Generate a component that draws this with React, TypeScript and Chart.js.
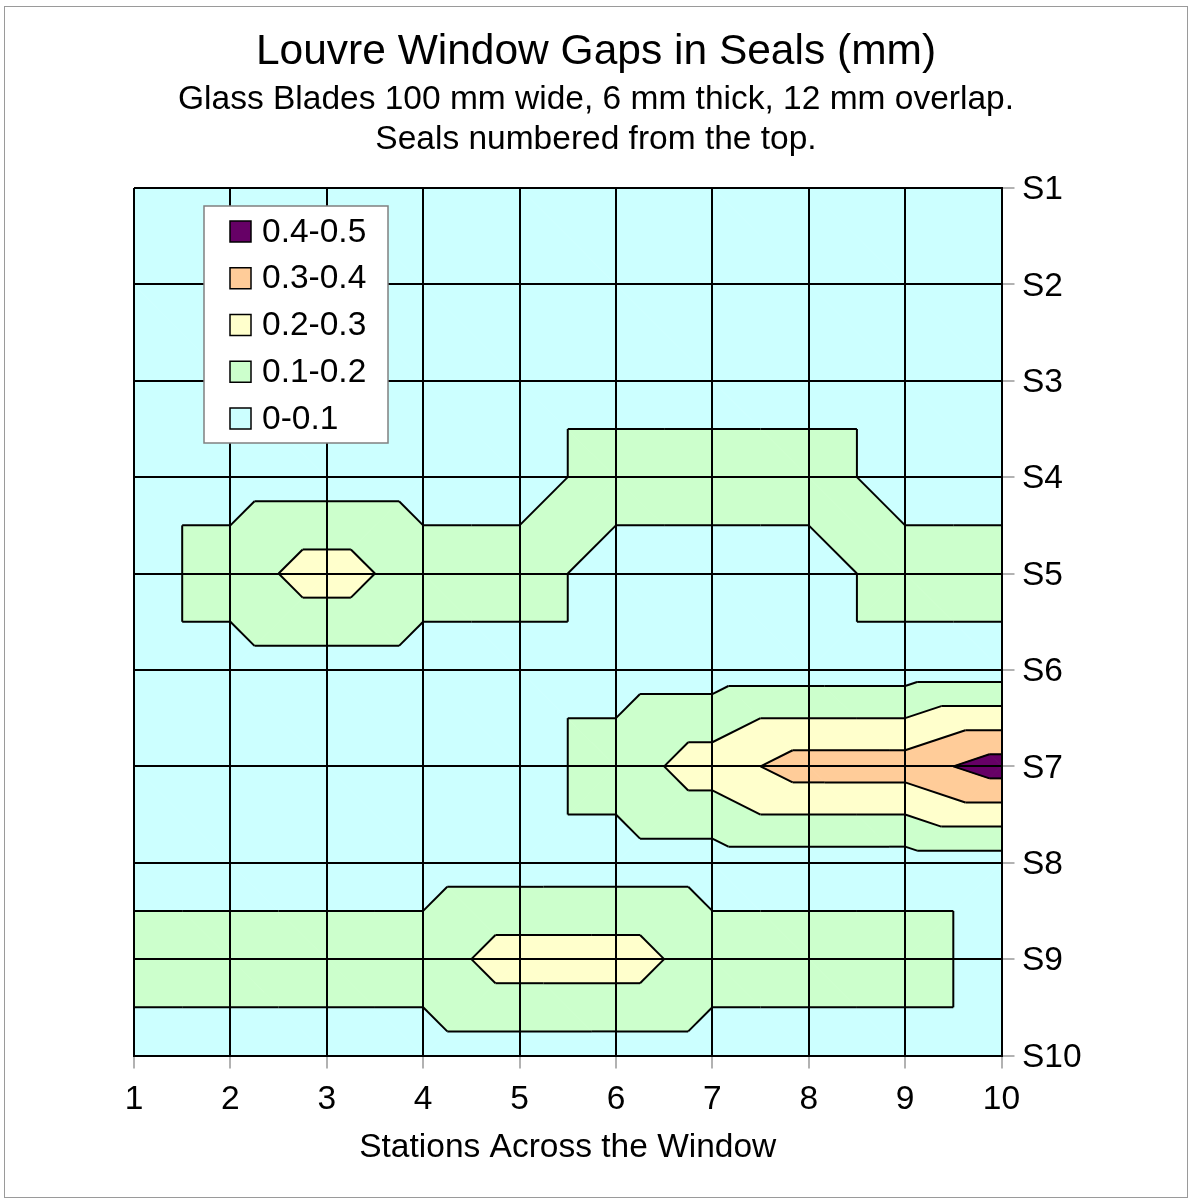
import React, { useEffect, useRef } from 'react';
import { Chart, registerables } from 'chart.js';

Chart.register(...registerables);

const FONT = "'Liberation Sans', Arial, sans-serif";

const titleText = 'Louvre Window Gaps in Seals (mm)';
const subtitleLines = ['Glass Blades 100 mm wide, 6 mm thick, 12 mm overlap.', 'Seals numbered from the top.'];
const xTitle = 'Stations Across the Window';

// stations across the window (x) and seals from the top (y)
const stations = [1, 2, 3, 4, 5, 6, 7, 8, 9, 10];
const seals = ['S1', 'S2', 'S3', 'S4', 'S5', 'S6', 'S7', 'S8', 'S9', 'S10'];

// gap in mm at each station, one row per seal
const gapS1 = [0.05, 0.05, 0.05, 0.05, 0.05, 0.05, 0.05, 0.05, 0.05, 0.05];
const gapS2 = [0.05, 0.05, 0.05, 0.05, 0.05, 0.05, 0.05, 0.05, 0.05, 0.05];
const gapS3 = [0.05, 0.05, 0.05, 0.05, 0.05, 0.05, 0.05, 0.05, 0.05, 0.05];
const gapS4 = [0.05, 0.05, 0.05, 0.05, 0.05, 0.15, 0.15, 0.15, 0.05, 0.05];
const gapS5 = [0.05, 0.15, 0.25, 0.15, 0.15, 0.05, 0.05, 0.05, 0.15, 0.15];
const gapS6 = [0.05, 0.05, 0.05, 0.05, 0.05, 0.05, 0.05, 0.05, 0.05, 0.05];
const gapS7 = [0.05, 0.05, 0.05, 0.05, 0.05, 0.15, 0.25, 0.35, 0.35, 0.45];
const gapS8 = [0.05, 0.05, 0.05, 0.05, 0.05, 0.05, 0.05, 0.05, 0.05, 0.05];
const gapS9 = [0.15, 0.15, 0.15, 0.15, 0.25, 0.25, 0.15, 0.15, 0.15, 0.05];
const gapS10 = [0.05, 0.05, 0.05, 0.05, 0.05, 0.05, 0.05, 0.05, 0.05, 0.05];
const gaps = [gapS1, gapS2, gapS3, gapS4, gapS5, gapS6, gapS7, gapS8, gapS9, gapS10];

// contour bands
const levels = [0, 0.1, 0.2, 0.3, 0.4, 0.5];
const bandLabels = ['0-0.1', '0.1-0.2', '0.2-0.3', '0.3-0.4', '0.4-0.5'];
const bandColors = ['#CCFFFF', '#CCFFCC', '#FFFFCC', '#FFCC99', '#660066'];

type P = { x: number; y: number; v: number };

// keep the part of a polygon above (or below) a level, values linear on it
const clip = (poly: P[], level: number, above: boolean): P[] => {
  const out: P[] = [];
  const inside = (p: P) => (above ? p.v >= level : p.v <= level);
  for (let i = 0; i < poly.length; i++) {
    const a = poly[i];
    const b = poly[(i + 1) % poly.length];
    const ia = inside(a);
    const ib = inside(b);
    if (ia) out.push(a);
    if (ia !== ib) {
      const t = (level - a.v) / (b.v - a.v);
      out.push({ x: a.x + t * (b.x - a.x), y: a.y + t * (b.y - a.y), v: level });
    }
  }
  return out;
};

// each cell split in two along the diagonal with the larger sum
const triangles = (): P[][] => {
  const tris: P[][] = [];
  for (let j = 0; j < seals.length - 1; j++) {
    for (let i = 0; i < stations.length - 1; i++) {
      const tl = { x: stations[i], y: j + 1, v: gaps[j][i] };
      const tr = { x: stations[i + 1], y: j + 1, v: gaps[j][i + 1] };
      const bl = { x: stations[i], y: j + 2, v: gaps[j + 1][i] };
      const br = { x: stations[i + 1], y: j + 2, v: gaps[j + 1][i + 1] };
      if (tl.v + br.v >= tr.v + bl.v) {
        tris.push([tl, tr, br], [tl, bl, br]);
      } else {
        tris.push([tr, tl, bl], [tr, br, bl]);
      }
    }
  }
  return tris;
};

const contourPlugin = {
  id: 'contour',
  beforeDraw(chart: any) {
    const { ctx } = chart;
    const xs = chart.scales.x;
    const ys = chart.scales.y;
    const px = (p: P) => xs.getPixelForValue(p.x);
    const py = (p: P) => ys.getPixelForValue(p.y);
    const tris = triangles();
    ctx.save();
    ctx.lineJoin = 'round';
    for (let k = 0; k < bandColors.length; k++) {
      ctx.fillStyle = bandColors[k];
      ctx.strokeStyle = bandColors[k];
      ctx.lineWidth = 1;
      for (const tri of tris) {
        const poly = clip(clip(tri, levels[k], true), levels[k + 1], false);
        if (poly.length < 3) continue;
        ctx.beginPath();
        poly.forEach((p, n) => (n === 0 ? ctx.moveTo(px(p), py(p)) : ctx.lineTo(px(p), py(p))));
        ctx.closePath();
        ctx.fill();
        ctx.stroke();
      }
    }
    ctx.strokeStyle = '#000';
    ctx.lineWidth = 2;
    for (const level of levels.slice(1, -1)) {
      for (const tri of tris) {
        const pts: P[] = [];
        for (let e = 0; e < 3; e++) {
          const a = tri[e];
          const b = tri[(e + 1) % 3];
          if ((a.v - level) * (b.v - level) < 0) {
            const t = (level - a.v) / (b.v - a.v);
            pts.push({ x: a.x + t * (b.x - a.x), y: a.y + t * (b.y - a.y), v: level });
          }
        }
        if (pts.length === 2) {
          ctx.beginPath();
          ctx.moveTo(px(pts[0]), py(pts[0]));
          ctx.lineTo(px(pts[1]), py(pts[1]));
          ctx.stroke();
        }
      }
    }
    ctx.restore();
  },
};

const bandLegendPlugin = {
  id: 'bandLegend',
  afterDraw(chart: any) {
    const { ctx, chartArea } = chart;
    const { left, top } = chartArea;
    ctx.save();
    ctx.fillStyle = '#fff';
    ctx.fillRect(left + 70, top + 18, 184, 237);
    ctx.strokeStyle = '#808080';
    ctx.lineWidth = 1.5;
    ctx.strokeRect(left + 70, top + 18, 184, 237);
    ctx.font = `33.5px ${FONT}`;
    ctx.textBaseline = 'middle';
    ctx.textAlign = 'left';
    for (let r = 0; r < bandLabels.length; r++) {
      const k = bandLabels.length - 1 - r;
      const cy = top + 43.5 + r * 46.75;
      ctx.fillStyle = bandColors[k];
      ctx.fillRect(left + 96, cy - 10.5, 21, 21);
      ctx.strokeStyle = '#000';
      ctx.strokeRect(left + 96, cy - 10.5, 21, 21);
      ctx.fillStyle = '#000';
      ctx.fillText(bandLabels[k], left + 128, cy + 1);
    }
    ctx.restore();
  },
};

const App: React.FC = () => {
  const canvasRef = useRef<HTMLCanvasElement>(null);
  const chartRef = useRef<Chart | null>(null);

  useEffect(() => {
    if (!canvasRef.current) return;
    if (chartRef.current) chartRef.current.destroy();

    const tickFont = { family: FONT, size: 33.5 };
    const grid = { color: '#000', lineWidth: 2, tickColor: '#999', tickLength: 13, tickWidth: 1.5 };

    chartRef.current = new Chart(canvasRef.current, {
      type: 'scatter',
      data: {
        datasets: bandLabels.map((label, k) => ({ label, data: [], backgroundColor: bandColors[k] })),
      },
      options: {
        animation: false,
        responsive: false,
        layout: { padding: 0 },
        plugins: {
          legend: { display: false },
          tooltip: { enabled: false },
          title: {
            display: true,
            text: titleText,
            color: '#000',
            font: { family: FONT, size: 42.5, weight: 'normal' },
            padding: { top: 19.5, bottom: 0 },
          },
          subtitle: {
            display: true,
            text: subtitleLines,
            color: '#000',
            font: { family: FONT, size: 33.5, weight: 'normal' },
            padding: { top: 1.9, bottom: 28.2 },
          },
        },
        scales: {
          x: {
            type: 'linear',
            position: 'bottom',
            min: 1,
            max: 10,
            ticks: {
              stepSize: 1,
              color: '#000',
              font: tickFont,
              padding: 11,
              maxRotation: 0,
              autoSkip: false,
              callback: (v: any) => String(stations[Number(v) - 1] ?? ''),
            },
            grid,
            border: { color: '#000', width: 2 },
            title: {
              display: true,
              text: xTitle,
              color: '#000',
              font: tickFont,
              padding: { top: 0, bottom: 29 },
            },
            afterFit: (s: any) => {
              s.height = 141.5;
            },
          },
          y: {
            type: 'linear',
            position: 'right',
            reverse: true,
            min: 1,
            max: 10,
            ticks: {
              stepSize: 1,
              color: '#000',
              font: tickFont,
              padding: 7.5,
              labelOffset: 2,
              autoSkip: false,
              callback: (v: any) => seals[Number(v) - 1] ?? '',
            },
            grid,
            border: { color: '#000', width: 2 },
            afterFit: (s: any) => {
              s.width = 185.5;
            },
          },
          yl: {
            type: 'linear',
            position: 'left',
            grid: { display: false },
            border: { display: false },
            ticks: { display: false },
            afterFit: (s: any) => {
              s.width = 129;
            },
          },
        },
      } as any,
      plugins: [contourPlugin, bandLegendPlugin],
    });

    return () => {
      if (chartRef.current) {
        chartRef.current.destroy();
        chartRef.current = null;
      }
    };
  }, []);

  return (
    <div
      style={{
        position: 'absolute',
        left: 4,
        top: 6,
        width: 1184,
        height: 1192,
        border: '1px solid #9a9a9a',
        boxSizing: 'border-box',
        background: '#fff',
      }}
    >
      <canvas ref={canvasRef} width={1182} height={1190} style={{ display: 'block' }} />
    </div>
  );
};

export default App;
